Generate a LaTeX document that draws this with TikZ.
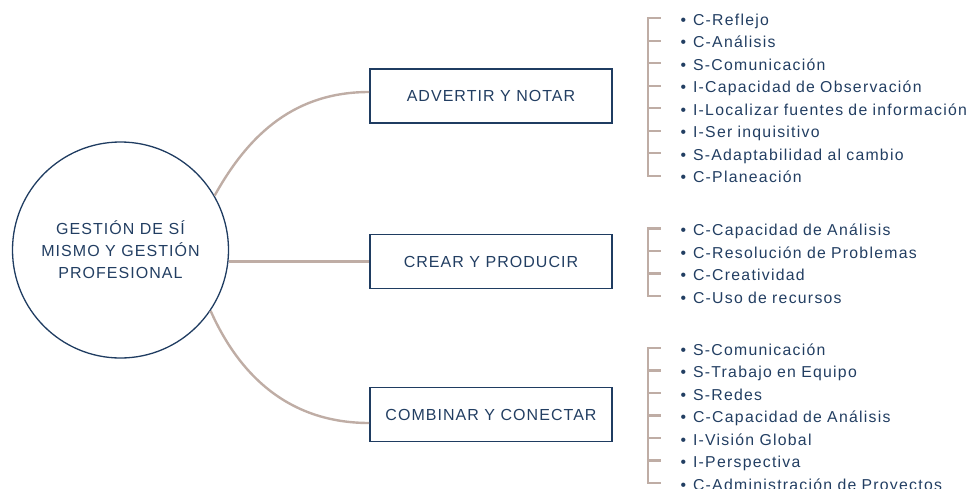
\documentclass[tikz,border=0pt]{standalone}
\usepackage{fontspec}
\setmainfont{Liberation Sans}[LetterSpace=6.5]
\newfontfamily\listfont{Liberation Sans}[LetterSpace=8]
\usepackage{xcolor}
\usetikzlibrary{positioning}
\definecolor{navy}{RGB}{31,60,97}
\definecolor{inkblue}{RGB}{34,62,98}
\definecolor{taupe}{RGB}{191,173,165}
\newcommand{\itm}[1]{\textbullet\hspace{7pt}#1}

\begin{document}
\begin{tikzpicture}[x=1pt, y=1pt,
  hub/.style={circle, draw=navy, line width=1.3pt, minimum size=216pt,
    inner sep=0pt, text=inkblue, align=center,
    font=\fontsize{16}{22}\selectfont},
  stagebox/.style={draw=navy, line width=1.6pt, minimum width=242pt,
    minimum height=54pt, inner sep=0pt, text=inkblue,
    font=\fontsize{16}{19}\selectfont},
  item/.style={text width=286pt, align=left, inner sep=0pt, outer sep=0pt,
    minimum height=22.5pt, text height=15pt, text depth=1pt,
    text=inkblue, font=\listfont\fontsize{15.8}{18}\selectfont},
  link/.style={draw=taupe, line width=2.4pt},
  bracket/.style={draw=taupe, line width=2.2pt},
  node distance=0pt,
]
\useasboundingbox (0,0) rectangle (967,-488);

\node[hub] (hub) at (120.5,-250)
  {GESTIÓN DE SÍ\\MISMO Y GESTIÓN\\PROFESIONAL};

\node[stagebox] (advertir) at (491,-96) {ADVERTIR Y NOTAR};
\node[stagebox] (crear) at (491,-261.5) {CREAR Y PRODUCIR};
\node[stagebox] (combinar) at (491,-414.5) {COMBINAR Y CONECTAR};

\draw[link] (hub.30) to[out=61, in=180] ([yshift=4pt]advertir.west);
\draw[link] (hub.east |- crear.west) -- (crear.west);
\draw[link] (hub.-34) to[out=-66, in=180] ([yshift=-8.5pt]combinar.west);

% Advertir y notar
\node[item, anchor=west] (a1) at (680.5,-18.3) {\itm{C-Reflejo}};
\node[item, below=of a1] (a2) {\itm{C-Análisis}};
\node[item, below=of a2] (a3) {\itm{S-Comunicación}};
\node[item, below=of a3] (a4) {\itm{I-Capacidad de Observación}};
\node[item, below=of a4] (a5) {\itm{I-Localizar fuentes de información}};
\node[item, below=of a5] (a6) {\itm{I-Ser inquisitivo}};
\node[item, below=of a6] (a7) {\itm{S-Adaptabilidad al cambio}};
\node[item, below=of a7] (a8) {\itm{C-Planeación}};

% Crear y producir
\node[item, anchor=west] (b1) at (680.5,-228.5) {\itm{C-Capacidad de Análisis}};
\node[item, below=of b1] (b2) {\itm{C-Resolución de Problemas}};
\node[item, below=of b2] (b3) {\itm{C-Creatividad}};
\node[item, below=of b3] (b4) {\itm{C-Uso de recursos}};

% Combinar y conectar
\node[item, anchor=west] (c1) at (680.5,-348) {\itm{S-Comunicación}};
\node[item, below=of c1] (c2) {\itm{S-Trabajo en Equipo}};
\node[item, below=of c2] (c3) {\itm{S-Redes}};
\node[item, below=of c3] (c4) {\itm{C-Capacidad de Análisis}};
\node[item, below=of c4] (c5) {\itm{I-Visión Global}};
\node[item, below=of c5] (c6) {\itm{I-Perspectiva}};
\node[item, below=of c6] (c7) {\itm{C-Administración de Proyectos}};

% Brackets
\draw[bracket] ([xshift=-32.5pt]a1.west) -- ([xshift=-32.5pt]a8.west);
\foreach \i in {1,...,8}
  \draw[bracket] ([xshift=-33.6pt]a\i.west) -- ++(13.6,0);
\draw[bracket] ([xshift=-32.5pt]b1.west) -- ([xshift=-32.5pt]b4.west);
\foreach \i in {1,...,4}
  \draw[bracket] ([xshift=-33.6pt]b\i.west) -- ++(13.6,0);
\draw[bracket] ([xshift=-32.5pt]c1.west) -- ([xshift=-32.5pt]c7.west);
\foreach \i in {1,...,7}
  \draw[bracket] ([xshift=-33.6pt]c\i.west) -- ++(13.6,0);

\end{tikzpicture}
\end{document}
